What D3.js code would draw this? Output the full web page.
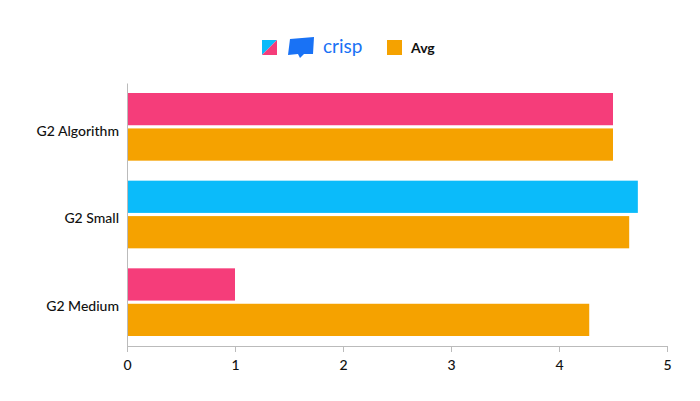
<!DOCTYPE html>
<html lang="en">
<head>
<meta charset="UTF-8" />
<style>
  html, body { margin: 0; padding: 0; background: #fff; }
  text { font-family: Lato, "Open Sans", sans-serif; }
</style>
</head>
<body>
<svg id="svg" width="700" height="401"></svg>
<script src="https://cdn.jsdelivr.net/npm/d3@7"></script>
<script>
  // chart data
  const categories = ["G2 Algorithm", "G2 Small", "G2 Medium"];
  const crispValues = [4.5, 4.73, 1.0];
  const crispColors = ["#f53d7a", "#0bbbfa", "#f53d7a"];
  const avgValues = [4.5, 4.65, 4.28];
  const xTicks = [0, 1, 2, 3, 4, 5];

  const margin = { top: 83, right: 33, bottom: 55, left: 127 };
  const width = 700 - margin.left - margin.right;
  const height = 401 - margin.top - margin.bottom;

  const svg = d3.select("#svg").append("g")
      .attr("transform", `translate(${margin.left},${margin.top})`);

  const x = d3.scaleLinear().domain([0, 5]).range([0, width]);
  const y = d3.scaleBand().domain(categories).range([0, height]);
  const inner = d3.scaleBand().domain(["crisp", "avg"]).range([10, y.bandwidth() - 10]).paddingInner(0.09);

  const rows = categories.map((c, i) => ({ c, i }));

  svg.selectAll(".crisp").data(rows).enter().append("rect")
      .attr("x", 0)
      .attr("y", d => y(d.c) + inner("crisp"))
      .attr("width", d => x(crispValues[d.i]))
      .attr("height", inner.bandwidth())
      .attr("fill", d => crispColors[d.i]);

  svg.selectAll(".avg").data(rows).enter().append("rect")
      .attr("x", 0)
      .attr("y", d => y(d.c) + inner("avg"))
      .attr("width", d => x(avgValues[d.i]))
      .attr("height", inner.bandwidth())
      .attr("fill", "#f5a200");

  // axes
  const xAxis = svg.append("g")
      .attr("transform", `translate(0,${height})`)
      .call(d3.axisBottom(x).tickValues(xTicks).tickSize(6).tickFormat(d3.format("d")));
  xAxis.select(".domain").attr("stroke", "#bbb");
  xAxis.selectAll(".tick line").attr("stroke", "#bbb");
  xAxis.selectAll("text").attr("font-size", 14).attr("font-weight", 500).attr("fill", "#111").attr("dy", "1.1em");

  const yAxis = svg.append("g")
      .call(d3.axisLeft(y).tickSize(0).tickPadding(8));
  yAxis.select(".domain").attr("stroke", "#bbb");
  yAxis.selectAll("text").attr("font-size", 14).attr("font-weight", 500).attr("fill", "#111").attr("dy", "0.62em");

  // legend
  const lg = d3.select("#svg").append("g");
  lg.append("path").attr("d", "M262,40 L277,40 L262,55 Z").attr("fill", "#0bbbfa");
  lg.append("path").attr("d", "M277,40 L277,55 L262,55 Z").attr("fill", "#f53d7a");
  lg.append("path")
      .attr("d", "M290,39 L314,37 L313,54 L304,54 L300,58 L298,54 L288,55 Z")
      .attr("fill", "#1972f5");
  lg.append("text").attr("x", 323).attr("y", 53).attr("font-size", 19)
      .attr("fill", "#1972f5").text("crisp");
  lg.append("rect").attr("x", 387).attr("y", 40).attr("width", 15).attr("height", 15).attr("fill", "#f5a200");
  lg.append("text").attr("x", 411).attr("y", 53).attr("font-size", 14)
      .attr("font-weight", "bold").attr("fill", "#111").text("Avg");
</script>
</body>
</html>
